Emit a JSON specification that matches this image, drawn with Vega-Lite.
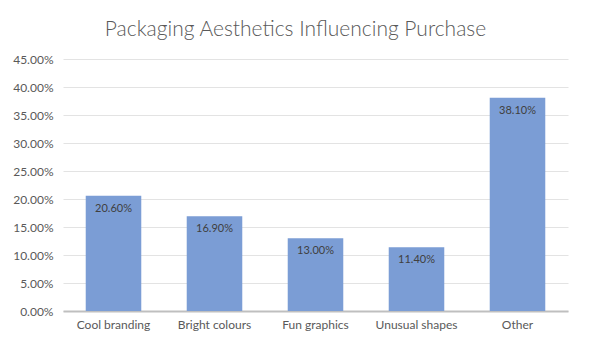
{
  "$schema": "https://vega.github.io/schema/vega-lite/v6.json",
  "autosize": "none",
  "width": 505,
  "height": 252,
  "padding": {"left": 63, "top": 59, "right": 22, "bottom": 38},
  "background": "white",
  "title": {
    "text": "Packaging Aesthetics Influencing Purchase",
    "font": "Lato",
    "fontSize": 21,
    "fontWeight": 300,
    "color": "#595959",
    "anchor": "middle",
    "dx": -20,
    "offset": 13
  },
  "data": {
    "values": [
      {"category": "Cool branding", "value": 0.206},
      {"category": "Bright colours", "value": 0.169},
      {"category": "Fun graphics", "value": 0.13},
      {"category": "Unusual shapes", "value": 0.114},
      {"category": "Other", "value": 0.381}
    ]
  },
  "encoding": {
    "x": {
      "field": "category",
      "type": "nominal",
      "sort": null,
      "scale": {"paddingInner": 0.45, "paddingOuter": 0.225},
      "axis": {
        "title": null,
        "labelAngle": 0,
        "labelFont": "Lato",
        "labelFontSize": 12,
        "labelColor": "#595959",
        "labelPadding": 8,
        "ticks": false,
        "domainColor": "#bfbfbf",
        "domainWidth": 2,
        "grid": false
      }
    },
    "y": {
      "field": "value",
      "type": "quantitative",
      "scale": {"domain": [0, 0.45]},
      "axis": {
        "title": null,
        "format": ".2%",
        "values": [0, 0.05, 0.1, 0.15, 0.2, 0.25, 0.3, 0.35, 0.4, 0.45],
        "labelFont": "Lato",
        "labelFontSize": 12,
        "labelColor": "#595959",
        "labelPadding": 10,
        "ticks": false,
        "domain": false,
        "gridColor": "#e3e3e3",
        "gridWidth": 1
      }
    }
  },
  "layer": [
    {"mark": {"type": "bar", "color": "#7b9dd5"}},
    {
      "mark": {
        "type": "text",
        "baseline": "middle",
        "dy": 13,
        "font": "Lato",
        "fontSize": 11,
        "color": "#404040"
      },
      "encoding": {
        "text": {"field": "value", "type": "quantitative", "format": ".2%"}
      }
    }
  ],
  "config": {
    "view": {"stroke": null}
  }
}
